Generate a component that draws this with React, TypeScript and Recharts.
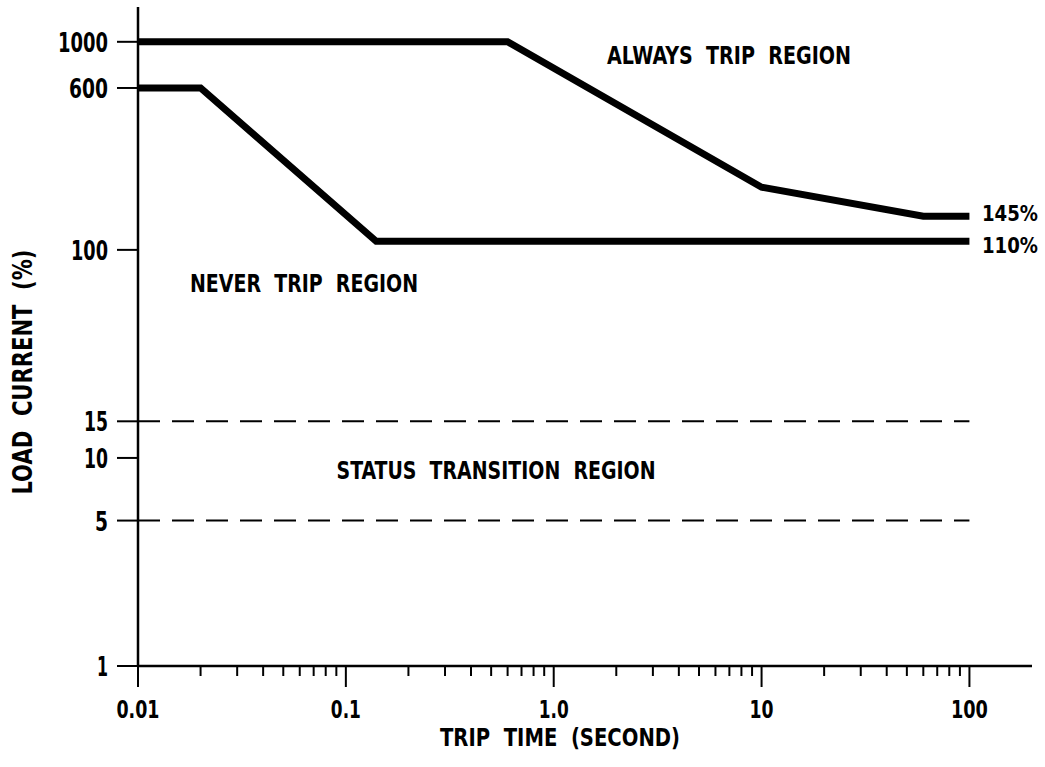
import { Customized, Line, LineChart, XAxis, YAxis } from "recharts";

// trip curve limits
const upperTime = [0.01, 0.6, 10, 60, 100];
const upperCurrent = [1000, 1000, 200, 145, 145];
const lowerTime = [0.01, 0.02, 0.14, 100];
const lowerCurrent = [600, 600, 110, 110];

// status transition band
const bandTime = [0.01, 100];
const bandHigh = [15, 15];
const bandLow = [5, 5];

const currentTicks = [1, 5, 10, 15, 100, 600, 1000];
const timeMajor = [0.01, 0.1, 1, 10, 100];
const timeMajorLabels = ["0.01", "0.1", "1.0", "10", "100"];
const minorSteps = [2, 3, 4, 5, 6, 7, 8, 9];

const FONT = "'Liberation Sans Narrow', 'DejaVu Sans Condensed', 'Liberation Sans', sans-serif";
const INK = "#000";

const toPoints = (xs: number[], ys: number[]) => xs.map((x, i) => ({ t: x, c: ys[i] }));

const upperData = toPoints(upperTime, upperCurrent);
const lowerData = toPoints(lowerTime, lowerCurrent);
const bandHighData = toPoints(bandTime, bandHigh);
const bandLowData = toPoints(bandTime, bandLow);

const timeTicks = [
  ...timeMajor,
  ...timeMajor.slice(0, -1).flatMap((d) => minorSteps.map((m) => +(d * m).toPrecision(6))),
].sort((a, b) => a - b);

// the drawing uses a narrow stencil face, so squeeze numbers to its widths
const numWidth = (s: string) =>
  s.split("").reduce((w, ch) => w + (ch === "." ? 6 : ch === "1" ? 11 : 13), 0);

const textBase = {
  fontFamily: FONT,
  fontWeight: 700,
  fill: INK,
  lengthAdjust: "spacingAndGlyphs" as const,
  style: { whiteSpace: "pre" as const },
};

function TimeTick(props: any) {
  const { x, y, payload } = props;
  const v = payload.value as number;
  const idx = timeMajor.findIndex((m) => Math.abs(m - v) < m * 1e-6);
  const major = idx >= 0;
  return (
    <g>
      <line x1={x} x2={x} y1={y} y2={y + (major ? 21 : 10)} stroke={INK} strokeWidth={2} />
      {major && (
        <text
          x={x}
          y={y + 52}
          textAnchor="middle"
          fontSize={25}
          textLength={numWidth(timeMajorLabels[idx])}
          {...textBase}
        >
          {timeMajorLabels[idx]}
        </text>
      )}
    </g>
  );
}

function CurrentTick(props: any) {
  const { x, y, payload } = props;
  const label = String(payload.value);
  return (
    <text
      x={x}
      y={y + 10}
      textAnchor="end"
      fontSize={27}
      textLength={numWidth(label)}
      {...textBase}
    >
      {label}
    </text>
  );
}

function Notes() {
  return (
    <g>
      <text x={729} y={64} textAnchor="middle" fontSize={25} textLength={244} {...textBase}>
        ALWAYS  TRIP  REGION
      </text>
      <text x={304} y={292} textAnchor="middle" fontSize={25} textLength={228} {...textBase}>
        NEVER  TRIP  REGION
      </text>
      <text x={496} y={479} textAnchor="middle" fontSize={25} textLength={319} {...textBase}>
        STATUS  TRANSITION  REGION
      </text>
      <text x={982} y={221} fontSize={22} textLength={56} {...textBase}>
        145%
      </text>
      <text x={982} y={253} fontSize={22} textLength={56} {...textBase}>
        110%
      </text>
      <text x={560} y={746} textAnchor="middle" fontSize={25} textLength={240} {...textBase}>
        TRIP  TIME  (SECOND)
      </text>
      <text
        x={32}
        y={372}
        textAnchor="middle"
        transform="rotate(-90 32 372)"
        fontSize={27}
        textLength={245}
        {...textBase}
      >
        LOAD  CURRENT  (%)
      </text>
    </g>
  );
}

export default function App() {
  return (
    <div style={{ position: "absolute", left: 0, top: 0, width: 1045, height: 767, background: "#fff" }}>
      <LineChart width={1045} height={767} margin={{ top: 7, right: 13, left: 0, bottom: 0 }}>
        <XAxis
          type="number"
          dataKey="t"
          scale="log"
          domain={[0.01, 200]}
          allowDataOverflow
          ticks={timeTicks}
          interval={0}
          height={101}
          tickSize={0}
          tickMargin={0}
          tickLine={false}
          axisLine={{ stroke: INK, strokeWidth: 2.5 }}
          tick={<TimeTick />}
        />
        <YAxis
          type="number"
          dataKey="c"
          scale="log"
          domain={[1, 1470]}
          allowDataOverflow
          ticks={currentTicks}
          interval={0}
          width={138}
          tickSize={21}
          tickMargin={9}
          tickLine={{ stroke: INK, strokeWidth: 2 }}
          axisLine={{ stroke: INK, strokeWidth: 2.5 }}
          tick={<CurrentTick />}
        />
        <Line
          data={bandHighData}
          dataKey="c"
          type="linear"
          stroke={INK}
          strokeWidth={2}
          strokeDasharray="22 12"
          dot={false}
          activeDot={false}
          isAnimationActive={false}
        />
        <Line
          data={bandLowData}
          dataKey="c"
          type="linear"
          stroke={INK}
          strokeWidth={2}
          strokeDasharray="22 12"
          dot={false}
          activeDot={false}
          isAnimationActive={false}
        />
        <Line
          data={lowerData}
          dataKey="c"
          type="linear"
          stroke={INK}
          strokeWidth={7}
          dot={false}
          activeDot={false}
          isAnimationActive={false}
        />
        <Line
          data={upperData}
          dataKey="c"
          type="linear"
          stroke={INK}
          strokeWidth={7}
          dot={false}
          activeDot={false}
          isAnimationActive={false}
        />
        <Customized component={Notes} />
      </LineChart>
    </div>
  );
}
